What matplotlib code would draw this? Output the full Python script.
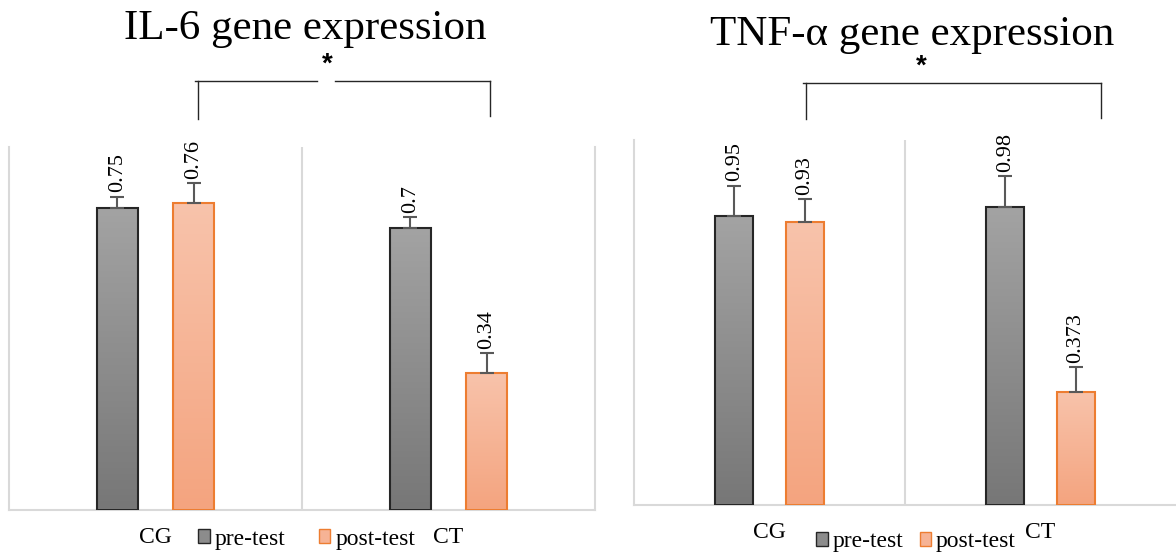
import matplotlib.pyplot as plt
import numpy as np
from matplotlib.colors import LinearSegmentedColormap
from matplotlib.patches import Patch

plt.rcParams["font.family"] = ["Liberation Serif", "DejaVu Serif"]

# data
groups = ["CG", "CT"]
series = ["pre-test", "post-test"]

il6_pre = [0.75, 0.70]
il6_post = [0.76, 0.34]
il6_pre_err = [0.027, 0.027]
il6_post_err = [0.05, 0.05]

tnf_pre = [0.95, 0.98]
tnf_post = [0.93, 0.373]
tnf_pre_err = [0.10, 0.10]
tnf_post_err = [0.075, 0.08]

GRID = "#d9d9d9"
GRAY_CMAP = LinearSegmentedColormap.from_list("gray_grad", ["#a3a3a3", "#777777"])
ORANGE_CMAP = LinearSegmentedColormap.from_list("orange_grad", ["#f8c3ab", "#f4a47f"])
GRAY_EDGE = "#262626"
ORANGE_EDGE = "#ed7d31"
OFFSET = 0.13
WIDTH = 0.14


def gradient_bars(ax, x, heights, errs, cmap, edge):
    bars = ax.bar(x, heights, WIDTH, facecolor="none", edgecolor=edge,
                  linewidth=1.5, zorder=3)
    grad = np.linspace(0, 1, 100).reshape(-1, 1)  # top -> bottom
    for bar in bars:
        x0, y0 = bar.get_xy()
        im = ax.imshow(grad, extent=[x0, x0 + bar.get_width(), y0, y0 + bar.get_height()],
                       aspect="auto", cmap=cmap, origin="upper", zorder=2)
        im.set_clip_path(bar)
    ax.errorbar(x, heights, yerr=[np.zeros(len(heights)), errs], fmt="none",
                ecolor="#595959", elinewidth=1.5, capsize=5, capthick=1.5, zorder=4)
    for xi, h, e in zip(x, heights, errs):
        ax.annotate(f"{h:g}", (xi, h + e), xytext=(0, 3), textcoords="offset points",
                    rotation=90, ha="center", va="bottom", fontsize=16)


def panel(ax, pre, pre_err, post, post_err, ytop, right_spine):
    x = np.arange(len(groups))
    gradient_bars(ax, x - OFFSET, pre, pre_err, GRAY_CMAP, GRAY_EDGE)
    gradient_bars(ax, x + OFFSET, post, post_err, ORANGE_CMAP, ORANGE_EDGE)
    ax.axvline(0.5, color=GRID, lw=1.5, zorder=1)
    ax.set_xlim(-0.5, 1.5)
    ax.set_ylim(0, ytop)
    ax.set_yticks([])
    ax.set_xticks(x)
    ax.set_xticklabels(groups, fontsize=17)
    ax.tick_params(axis="x", length=0, pad=12)
    ax.spines["top"].set_visible(False)
    ax.spines["right"].set_visible(right_spine)
    for s in ("left", "right", "bottom"):
        ax.spines[s].set_color(GRID)
        ax.spines[s].set_linewidth(1.5)


def bracket(ax, x0, x1, y, y0_left, y0_right, star_x, star_y, gap=None):
    kw = dict(color="#262626", lw=1, clip_on=False)
    ax.plot([x0, x0], [y0_left, y], **kw)
    ax.plot([x1, x1], [y0_right, y], **kw)
    if gap:
        ax.plot([x0 - 0.01, gap[0]], [y, y], **kw)
        ax.plot([gap[1], x1], [y, y], **kw)
    else:
        ax.plot([x0 - 0.01, x1], [y, y], **kw)
    ax.text(star_x, star_y, "*", ha="center", va="center", fontsize=20,
            fontweight="bold", family="Liberation Sans")


def legend(ax, anchor, colspacing):
    handles = [Patch(facecolor="#8c8c8c", edgecolor=GRAY_EDGE),
               Patch(facecolor="#f6b395", edgecolor=ORANGE_EDGE)]
    ax.legend(handles, series, loc="center", bbox_to_anchor=anchor, ncol=2,
              frameon=False, fontsize=17, handlelength=0.5, handleheight=0.5,
              handletextpad=0.2, columnspacing=colspacing, borderaxespad=0)


fig = plt.figure(figsize=(11.76, 5.52), dpi=100)

ax1 = fig.add_axes([9 / 1176, 42 / 552, 586 / 1176, 363 / 552])
panel(ax1, il6_pre, il6_pre_err, il6_post, il6_post_err, 0.9, True)
bracket(ax1, 0.145, 1.142, 1.064, 0.970, 0.978, 0.585, 1.105, gap=(0.551, 0.613))
legend(ax1, (0.508, -0.08), 1.4)

ax2 = fig.add_axes([634 / 1176, 47 / 552, 542 / 1176, 365 / 552])
panel(ax2, tnf_pre, tnf_pre_err, tnf_post, tnf_post_err, 1.2, False)
bracket(ax2, 0.135, 1.223, 1.387, 1.269, 1.272, 0.559, 1.44)
legend(ax2, (0.52, -0.101), 0.7)

fig.text(305 / 1176, 1 - 29 / 552, "IL-6 gene expression", ha="center", va="center", fontsize=31)
fig.text(912 / 1176, 1 - 35 / 552, "TNF-\u03b1 gene expression", ha="center", va="center", fontsize=31)

fig.savefig("out.png", dpi=100)
